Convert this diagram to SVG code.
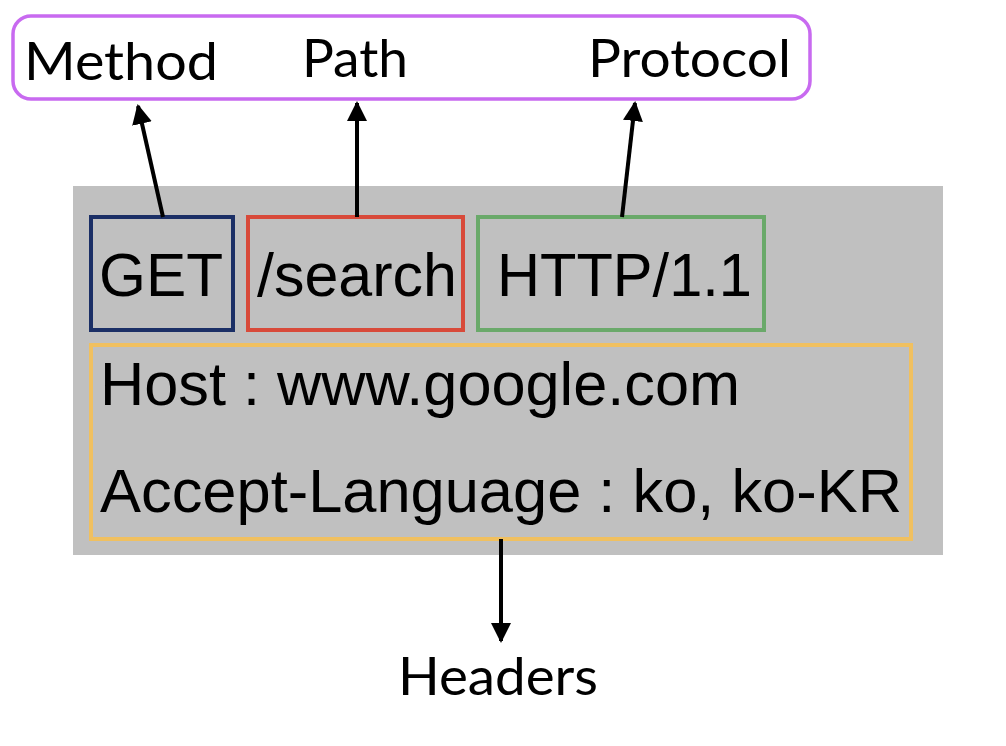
<svg xmlns="http://www.w3.org/2000/svg" width="1006" height="746" viewBox="0 0 1006 746">
<defs>
<marker id="ah" viewBox="0 0 10 10" refX="9" refY="5" markerWidth="5" markerHeight="5" markerUnits="strokeWidth" orient="auto">
<path d="M0,0 L10,5 L0,10 z" fill="#000"/>
</marker>
<style>
.lbl{font-family:Lato,"Open Sans","Noto Sans",sans-serif;font-size:52px;fill:#000}
.code{font-family:"Liberation Sans",Arial,sans-serif;font-size:62px;fill:#000}
.box{fill:none;stroke-width:4}
.conn{stroke:#000;stroke-width:4;fill:none;marker-end:url(#ah)}
</style>
</defs>
<rect width="1006" height="746" fill="#fff"/>
<g id="labels">
<rect x="13" y="16" width="797" height="83" rx="18" fill="#fff" stroke="#c86af0" stroke-width="3.5"/>
<text class="lbl" x="24" y="80" textLength="194" lengthAdjust="spacingAndGlyphs">Method</text>
<text class="lbl" x="302" y="77" textLength="106" lengthAdjust="spacingAndGlyphs">Path</text>
<text class="lbl" x="588" y="77" textLength="203" lengthAdjust="spacingAndGlyphs">Protocol</text>
</g>
<g id="request">
<rect x="73" y="186" width="870" height="369" fill="#c0c0c0"/>
</g>
<g id="method">
<rect class="box" x="91" y="217" width="142" height="113" stroke="#1b2f66"/>
<text class="code" x="99" y="296" textLength="124" lengthAdjust="spacingAndGlyphs">GET</text>
</g>
<g id="path">
<rect class="box" x="248" y="217" width="215" height="113" stroke="#d84a3a"/>
<text class="code" x="257" y="296" textLength="200" lengthAdjust="spacingAndGlyphs">/search</text>
</g>
<g id="protocol">
<rect class="box" x="478" y="217" width="286" height="113" stroke="#6aa96a"/>
<text class="code" x="497" y="296" textLength="255" lengthAdjust="spacingAndGlyphs">HTTP/1.1</text>
</g>
<g id="headers">
<rect class="box" x="91" y="345" width="820" height="194" stroke="#f0c060"/>
<text class="code" x="100" y="405" font-size="60" textLength="640" lengthAdjust="spacingAndGlyphs">Host : www.google.com</text>
<text class="code" x="100" y="512" font-size="60" textLength="802" lengthAdjust="spacingAndGlyphs">Accept-Language : ko, ko-KR</text>
</g>
<g id="headers-label">
<text class="lbl" x="398" y="695" textLength="200" lengthAdjust="spacingAndGlyphs">Headers</text>
</g>
<g id="connectors">
<line class="conn" x1="163" y1="217" x2="138" y2="106"/>
<line class="conn" x1="357" y1="217" x2="357" y2="103"/>
<line class="conn" x1="622" y1="217" x2="635" y2="103"/>
<line class="conn" x1="501" y1="539" x2="501" y2="641"/>
</g>
</svg>
